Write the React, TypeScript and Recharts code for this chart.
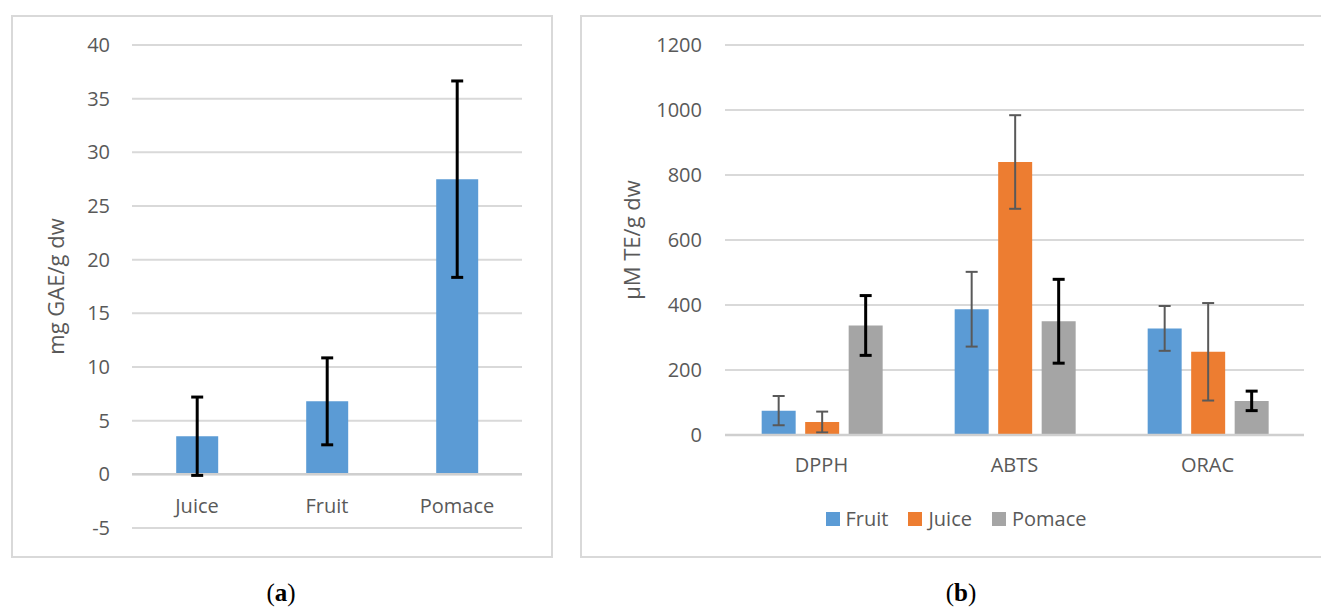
import React from 'react';
import { BarChart, Bar, XAxis, YAxis, CartesianGrid, ErrorBar, ReferenceLine, Legend } from 'recharts';

const FONT = '"Open Sans", sans-serif';
const TEXT = '#595959';
const GRID = '#d9d9d9';
const AXIS = '#cfcfcf';

// ---- Panel (a): total phenolics ----
const leftCategories = ['Juice', 'Fruit', 'Pomace'];
const leftValues = [3.55, 6.8, 27.5];
const leftErrors = [3.65, 4.05, 9.15];
const leftTicks = [-5, 0, 5, 10, 15, 20, 25, 30, 35, 40];

// ---- Panel (b): antioxidant capacity ----
const rightCategories = ['DPPH', 'ABTS', 'ORAC'];
const fruitValues = [75, 387, 328];
const fruitErrors = [45, 115, 69];
const juiceValues = [40, 840, 256];
const juiceErrors = [32, 144, 150];
const pomaceValues = [337, 350, 105];
const pomaceErrors = [92, 129, 30];
const rightTicks = [0, 200, 400, 600, 800, 1000, 1200];

const leftData = leftCategories.map((name, i) => ({ name, value: leftValues[i], err: leftErrors[i] }));
const rightData = rightCategories.map((name, i) => ({
  name,
  Fruit: fruitValues[i],
  fruitErr: fruitErrors[i],
  Juice: juiceValues[i],
  juiceErr: juiceErrors[i],
  Pomace: pomaceValues[i],
  pomaceErr: pomaceErrors[i],
}));

const makeTick = (dy: number) => (props: any) => {
  const { x, y, payload } = props;
  return (
    <text x={x} y={y} dy={dy} textAnchor="middle" fill={TEXT} fontSize={20} fontFamily={FONT}>
      {payload.value}
    </text>
  );
};

const renderLegend = (props: any) => {
  const { payload } = props;
  return (
    <div style={{ display: 'flex', justifyContent: 'center', fontFamily: FONT, fontSize: 20, color: TEXT }}>
      {(payload || []).map((entry: any, i: number) => (
        <div key={entry.value} style={{ display: 'flex', alignItems: 'center', marginLeft: i ? 20 : 0 }}>
          <span style={{ display: 'inline-block', width: 14, height: 14, background: entry.color, marginRight: 6 }} />
          <span>{entry.value}</span>
        </div>
      ))}
    </div>
  );
};

export default function App() {
  return (
    <div style={{ position: 'absolute', left: 0, top: 0, width: 1321, height: 607, overflow: 'hidden', background: '#fff' }}>
      <div style={{ position: 'absolute', left: 11, top: 15, width: 542, height: 543, border: `2px solid ${GRID}`, boxSizing: 'border-box' }} />
      <div style={{ position: 'absolute', left: 580, top: 15, width: 780, height: 543, border: `2px solid ${GRID}`, boxSizing: 'border-box' }} />

      <div style={{ position: 'absolute', left: 0, top: 0 }}>
        <BarChart width={560} height={607} data={leftData} margin={{ top: 45, right: 38, bottom: 49, left: 0 }} barCategoryGap="34%">
          <CartesianGrid vertical={false} stroke={GRID} strokeWidth={2} />
          <XAxis dataKey="name" axisLine={false} tickLine={false} tickSize={0} tickMargin={0} height={30} tick={makeTick(-15)} />
          <YAxis
            width={132}
            domain={[-5, 40]}
            ticks={leftTicks}
            axisLine={false}
            tickLine={false}
            tickSize={0}
            tickMargin={22}
            tick={{ fill: TEXT, fontSize: 20, fontFamily: FONT }}
            label={{ value: 'mg GAE/g dw', angle: -90, position: 'insideLeft', offset: 56, style: { textAnchor: 'middle', fill: TEXT, fontSize: 22, fontFamily: FONT } }}
          />
          <ReferenceLine y={0} stroke={AXIS} strokeWidth={2.5} />
          <Bar dataKey="value" fill="#5B9BD5" isAnimationActive={false}>
            <ErrorBar dataKey="err" width={6} strokeWidth={3} stroke="#000" />
          </Bar>
        </BarChart>
      </div>

      <div style={{ position: 'absolute', left: 570, top: 0 }}>
        <BarChart width={751} height={607} data={rightData} margin={{ top: 45, right: 17, bottom: 142, left: 0 }} barCategoryGap="19%" barGap={9.5}>
          <CartesianGrid vertical={false} stroke={GRID} strokeWidth={2} />
          <XAxis dataKey="name" axisLine={{ stroke: AXIS, strokeWidth: 2.5 }} tickLine={false} tickSize={0} tickMargin={0} height={30} tick={makeTick(37)} />
          <YAxis
            width={155}
            domain={[0, 1200]}
            ticks={rightTicks}
            axisLine={false}
            tickLine={false}
            tickSize={0}
            tickMargin={23}
            tick={{ fill: TEXT, fontSize: 20, fontFamily: FONT }}
            label={{ value: 'µM TE/g dw', angle: -90, position: 'insideLeft', offset: 62, style: { textAnchor: 'middle', fill: TEXT, fontSize: 22, fontFamily: FONT } }}
          />
          <Legend
            layout="horizontal"
            verticalAlign="middle"
            align="center"
            content={renderLegend}
            wrapperStyle={{ left: 186, width: 400, top: 505 }}
          />
          <Bar dataKey="Fruit" name="Fruit" fill="#5B9BD5" isAnimationActive={false}>
            <ErrorBar dataKey="fruitErr" width={6} strokeWidth={2} stroke="#595959" />
          </Bar>
          <Bar dataKey="Juice" name="Juice" fill="#ED7D31" isAnimationActive={false}>
            <ErrorBar dataKey="juiceErr" width={6} strokeWidth={2} stroke="#595959" />
          </Bar>
          <Bar dataKey="Pomace" name="Pomace" fill="#A5A5A5" isAnimationActive={false}>
            <ErrorBar dataKey="pomaceErr" width={6} strokeWidth={3} stroke="#000" />
          </Bar>
        </BarChart>
      </div>

      <div style={{ position: 'absolute', left: 231, width: 100, top: 579, textAlign: 'center', fontFamily: '"Liberation Serif", serif', fontSize: 25, color: '#000' }}>
        (<b>a</b>)
      </div>
      <div style={{ position: 'absolute', left: 911, width: 100, top: 579, textAlign: 'center', fontFamily: '"Liberation Serif", serif', fontSize: 25, color: '#000' }}>
        (<b>b</b>)
      </div>
    </div>
  );
}
